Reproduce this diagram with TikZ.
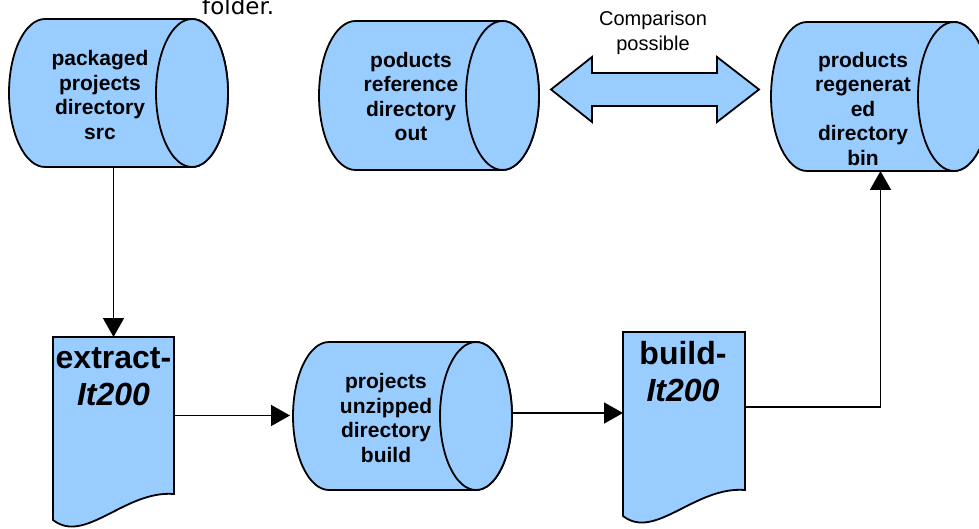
\documentclass[tikz,border=0pt]{standalone}
\usepackage{fontspec}
\setmainfont{Liberation Sans}
\newfontfamily\dejavu{DejaVu Sans}
\usetikzlibrary{arrows.meta}
\definecolor{drumblue}{RGB}{153,204,255}

% drum (horizontal cylinder) drawn inside the box of node #1,
% face ellipse on the right with radii #2 and #3
\newcommand\drawdrum[3]{%
  \path[shapeline] ([xshift=-#2]#1.north east) -- ([xshift=#2]#1.north west)
    arc[start angle=90, end angle=270, x radius=#2, y radius=#3]
    -- ([xshift=-#2]#1.south east)
    arc[start angle=-90, end angle=90, x radius=#2, y radius=#3] -- cycle;
  \path[shapeline] ([xshift=-#2]#1.east) ellipse[x radius=#2, y radius=#3];}

% document sheet with a wavy lower edge below the box of node #1
\newcommand\drawdoc[1]{%
  \path[shapeline] (#1.south east) -- (#1.north east) -- (#1.north west)
    -- ([shift={(0,26)}]#1.south west)
    .. controls ([shift={(32,51)}]#1.south west) and ([shift={(72,-4)}]#1.south west)
    .. (#1.south east) -- cycle;}

\begin{document}
\begin{tikzpicture}[x=1pt,y=-1pt,
  shapeline/.style={draw=black, fill=drumblue, line width=1.8pt},
  holder/.style={rectangle, inner sep=0pt, outer sep=0pt},
  drumtext/.style={font=\fontsize{21}{24.5}\selectfont\bfseries, align=center, inner sep=0pt},
  doctext/.style={font=\fontsize{32}{37}\selectfont\bfseries, align=center, inner sep=0pt},
  plaintext/.style={font=\fontsize{20}{25}\selectfont, align=center, inner sep=0pt},
  conn/.style={line width=1.6pt, -{Triangle[length=19pt,width=21pt]}}
]
\useasboundingbox (0,0) rectangle (979,529);
\clip (0,0) rectangle (979,529);

% caption fragment running off the top edge
\node[font=\dejavu\fontsize{23}{27}\selectfont, anchor=base west, inner sep=0pt] (fold) at (202,15) {folder.};

% boxes of the drums and documents
\node[holder, minimum width=219pt, minimum height=148pt] (src) at (118.5,93) {};
\node[holder, minimum width=220pt, minimum height=149pt] (out) at (429,95.5) {};
\node[holder, minimum width=219pt, minimum height=149pt] (bin) at (880.5,96.5) {};
\node[holder, minimum width=219pt, minimum height=148pt] (bld) at (402.5,416) {};
\node[holder, minimum width=121pt, minimum height=157pt] (ext) at (113.5,415.5) {};
\node[holder, minimum width=122pt, minimum height=158pt] (bdoc) at (684,411) {};

\drawdrum{src}{36pt}{74pt}
\drawdrum{out}{36.5pt}{74.5pt}
\drawdrum{bin}{36pt}{74.5pt}
\drawdrum{bld}{36pt}{74pt}
\drawdoc{ext}
\drawdoc{bdoc}

% two-headed comparison arrow
\path[shapeline] (551,89.5) -- (592,57) -- (592,73) -- (717,73) -- (717,57)
  -- (759,89.5) -- (717,122) -- (717,106) -- (592,106) -- (592,122) -- cycle;
\node[plaintext] (cmpt) at (653,33) {Comparison\\possible};

% labels
\node[drumtext] (srct) at (100,95) {packaged\\projects\\directory\\src};
\node[drumtext] (outt) at (411,96.5) {poducts\\reference\\directory\\out};
\node[drumtext] (bint) at (863,108.5) {products\\regenerat\\ed\\directory\\bin};
\node[drumtext] (bldt) at (386,418) {projects\\unzipped\\directory\\build};
\node[doctext] (extt) at (113.5,377) {extract-\\\textit{It200}};
\node[doctext] (bdoct) at (683,372) {build-\\\textit{It200}};

% flow connectors
\draw[conn] (ext.north |- src.south) -- (ext.north);
\draw[conn, shorten >=3pt] (ext.east) -- (ext.east -| bld.west);
\draw[conn] ([yshift=3pt]bld.east) -- ([yshift=3pt]bld.east -| bdoc.west);
\draw[conn] ([yshift=4pt]bdoc.east) -| (bin.south);
\end{tikzpicture}
\end{document}
